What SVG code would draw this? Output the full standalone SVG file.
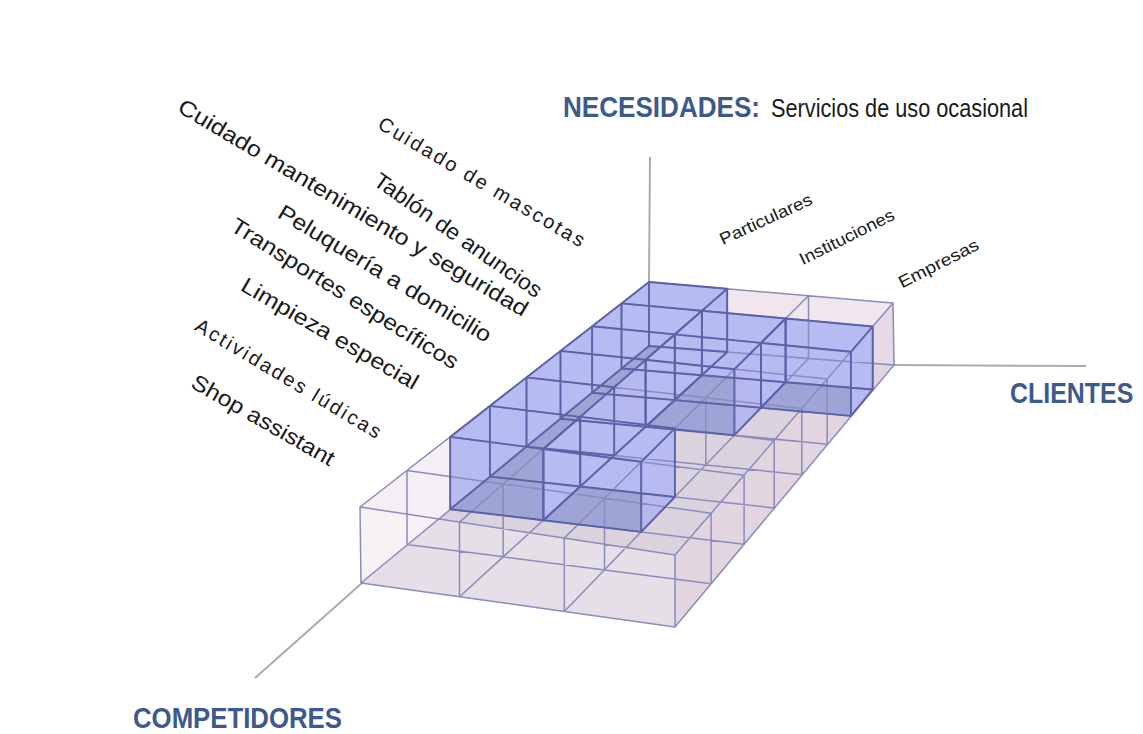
<svg xmlns="http://www.w3.org/2000/svg" width="1143" height="734" viewBox="0 0 1143 734">
<style>
.ax{stroke:#ababab;stroke-width:2;fill:none}
.lbl{font-family:"Liberation Sans",Arial,sans-serif;fill:#1a1a1a}
.axt{font-family:"Liberation Sans",Arial,sans-serif;font-weight:bold;fill:#3c5b8c}
.lat{stroke:#8a8cbd;stroke-width:1.5;fill:none;stroke-linecap:round}
.bed{stroke:#5d62a8;stroke-width:1.9;fill:none;stroke-linecap:round}
.lb{fill:#b7bbf2}
.db{fill:#9aa0d0}
.tp{fill:#b7bbf2;fill-opacity:.15}
.rt{fill:#b7bbf2;fill-opacity:.92}
.fr{fill:#b7bbf2;fill-opacity:.15}
</style>
<rect width="1143" height="734" fill="#ffffff"/>
<g id="axes">
<line class="ax" x1="650" y1="157" x2="649" y2="282"/>
<line class="ax" x1="894" y1="365" x2="1086" y2="366"/>
<line class="ax" x1="362" y1="583" x2="255" y2="678"/>
</g>
<g id="grid-base">
<polygon points="649,282 893,303 894,365 675,627 361,583 360,507" fill="#f6eff5"/>
<polygon points="649,346 894,365 675,627 361,583" fill="#dad3de"/>
<polygon points="727.2,288.7 893,303 894,365 727.2,352" fill="#f1e5ee"/>
<polygon points="893,303 872.7,326.5 872.7,389.5 894,365" fill="#e4d6e0" fill-opacity=".8"/>
<polygon points="850.9,351.8 675,555 675,627 850.9,415.9" fill="#e4d6e0" fill-opacity=".8"/>
</g>
<g id="cube-particulares">
<polygon class="lb" points="649,282 450.2,436.9 450.2,509.3 649,346"/>
<polygon class="lb" points="649,282 727.2,288.7 727.2,352 649,346"/>
<polygon class="db" points="649,346 727.2,352 543.4,520.2 450.2,509.3"/>
<polygon class="rt" points="727.2,288.7 543.4,449 543.4,520.2 727.2,352"/>
<polygon class="fr" points="450.2,436.9 543.4,449 543.4,520.2 450.2,509.3"/>
<polygon class="tp" points="649,282 727.2,288.7 543.4,449 450.2,436.9"/>
</g>
<g id="cube-instituciones-a">
<polygon class="lb" points="701.9,310.8 645.6,359.8 645.6,426.7 701.9,375.2"/>
<polygon class="lb" points="701.9,310.8 785.6,318.5 785.6,382.2 701.9,375.2"/>
<polygon class="db" points="701.9,375.2 785.6,382.2 734.4,435.2 645.6,426.7"/>
<polygon class="rt" points="785.6,318.5 734.4,369.2 734.4,435.2 785.6,382.2"/>
<polygon class="fr" points="645.6,359.8 734.4,369.2 734.4,435.2 645.6,426.7"/>
<polygon class="tp" points="701.9,310.8 785.6,318.5 734.4,369.2 645.6,359.8"/>
</g>
<g id="cube-empresas">
<polygon class="lb" points="785.6,318.5 761,342.9 761,407.8 785.6,382.2"/>
<polygon class="lb" points="785.6,318.5 872.7,326.5 872.7,389.5 785.6,382.2"/>
<polygon class="db" points="785.6,382.2 872.7,389.5 850.9,415.9 761,407.8"/>
<polygon class="rt" points="872.7,326.5 850.9,351.8 850.9,415.9 872.7,389.5"/>
<polygon class="fr" points="761,342.9 850.9,351.8 850.9,415.9 761,407.8"/>
<polygon class="tp" points="785.6,318.5 872.7,326.5 850.9,351.8 761,342.9"/>
</g>
<g id="cube-instituciones-b">
<polygon class="lb" points="580.2,416.9 543.4,449 543.4,520.2 580.2,486.5"/>
<polygon class="lb" points="580.2,416.9 674.9,428.4 674.9,497 580.2,486.5"/>
<polygon class="db" points="580.2,486.5 674.9,497 641.2,531.9 543.4,520.2"/>
<polygon class="rt" points="674.9,428.4 641.2,461.8 641.2,531.9 674.9,497"/>
<polygon class="fr" points="543.4,449 641.2,461.8 641.2,531.9 543.4,520.2"/>
<polygon class="tp" points="580.2,416.9 674.9,428.4 641.2,461.8 543.4,449"/>
</g>
<g id="grid-front">
<polygon points="360,507 675,555 675,627 361,583" fill="#fbf6fa" fill-opacity=".35"/>
</g>
<g id="connectors">
<path class="lat" d="M649,282L360,507 M727.2,288.7L459.5,522.1 M808.5,295.7L564.3,538.1 M893,303L675,555
M649,282L893,303 M621.5,303.4L872.7,326.5 M592.1,326.3L850.9,351.8 M560.5,350.9L827.2,379 M526.5,377.4L801.8,408.4 M489.9,405.9L774.2,440.4 M450.2,436.9L744.1,475.2 M407,470.4L711.1,513.2 M360,507L675,555
M649,346L361,583 M727.2,352L459.5,596.8 M808.5,358.4L564.3,611.4 M894,365L675,627
M649,346L727.2,352L808.5,358.4L894,365 M621.5,368.5L701.9,375.2L785.6,382.2L872.7,389.5 M592.1,392.8L674.8,400.1L761,407.8L850.9,415.9 M560.5,418.7L645.6,426.7L734.4,435.2L827.2,444.2 M526.5,446.6L614.2,455.5L705.8,464.9L801.8,474.7 M489.9,476.6L580.2,486.5L674.9,497L774.2,508 M450.2,509.3L543.4,520.2L641.2,531.9L744.1,544.2 M407,544.6L503.2,556.8L604.5,569.9L711.1,583.7 M361,583L459.5,596.8L564.3,611.4L675,627
M649,282V346 M621.5,303.4V368.5 M592.1,326.3V392.8 M560.5,350.9V418.7 M526.5,377.4V446.6 M489.9,405.9V476.6 M450.2,436.9V509.3 M407,470.4V544.6 M360,507L361,583
M727.2,288.7V352 M701.9,310.8V375.2 M674.8,334.4V400.1 M645.6,359.8V426.7 M614.2,387.3V455.5 M580.2,416.9V486.5 M543.4,449V520.2 M503.2,483.9V556.8 M459.5,522.1V596.8
M808.5,295.7V358.4 M785.6,318.5V382.2 M761,342.9V407.8 M734.4,369.2V435.2 M705.8,397.6V464.9 M674.9,428.4V497 M641.2,461.8V531.9 M604.5,498.2V569.9 M564.3,538.1V611.4
M893,303L894,365 M872.7,326.5V389.5 M850.9,351.8V415.9 M827.2,379V444.2 M801.8,408.4V474.7 M774.2,440.4V508 M744.1,475.2V544.2 M711.1,513.2V583.7 M675,555V627"/>
<path class="bed" d="M649,282L450.2,436.9 M727.2,288.7L543.4,449 M649,346L450.2,509.3 M727.2,352L543.4,520.2
M649,282L727.2,288.7 M621.5,303.4L701.9,310.8 M592.1,326.3L674.8,334.4 M560.5,350.9L645.6,359.8 M526.5,377.4L614.2,387.3 M489.9,405.9L580.2,416.9 M450.2,436.9L543.4,449
M649,346L727.2,352 M621.5,368.5L701.9,375.2 M592.1,392.8L674.8,400.1 M560.5,418.7L645.6,426.7 M526.5,446.6L614.2,455.5 M489.9,476.6L580.2,486.5 M450.2,509.3L543.4,520.2
M649,282V346 M621.5,303.4V368.5 M592.1,326.3V392.8 M560.5,350.9V418.7 M526.5,377.4V446.6 M489.9,405.9V476.6 M450.2,436.9V509.3
M727.2,288.7V352 M701.9,310.8V375.2 M674.8,334.4V400.1 M645.6,359.8V426.7 M614.2,387.3V455.5 M580.2,416.9V486.5 M543.4,449V520.2"/>
<path class="bed" d="M701.9,310.8L645.6,359.8 M785.6,318.5L734.4,369.2 M701.9,375.2L645.6,426.7 M785.6,382.2L734.4,435.2
M701.9,310.8L785.6,318.5 M674.8,334.4L761,342.9 M645.6,359.8L734.4,369.2
M701.9,375.2L785.6,382.2 M674.8,400.1L761,407.8 M645.6,426.7L734.4,435.2
M701.9,310.8V375.2 M674.8,334.4V400.1 M645.6,359.8V426.7 M785.6,318.5V382.2 M761,342.9V407.8 M734.4,369.2V435.2"/>
<path class="bed" d="M785.6,318.5L761,342.9 M872.7,326.5L850.9,351.8 M785.6,382.2L761,407.8 M872.7,389.5L850.9,415.9
M785.6,318.5L872.7,326.5 M761,342.9L850.9,351.8 M785.6,382.2L872.7,389.5 M761,407.8L850.9,415.9
M785.6,318.5V382.2 M761,342.9V407.8 M872.7,326.5V389.5 M850.9,351.8V415.9"/>
<path class="bed" d="M580.2,416.9L543.4,449 M674.9,428.4L641.2,461.8 M580.2,486.5L543.4,520.2 M674.9,497L641.2,531.9
M580.2,416.9L674.9,428.4 M543.4,449L641.2,461.8 M580.2,486.5L674.9,497 M543.4,520.2L641.2,531.9
M580.2,416.9V486.5 M543.4,449V520.2 M674.9,428.4V497 M641.2,461.8V531.9"/>
</g>
<g id="labels-needs" class="lbl">
<text transform="translate(481.7,181.7) rotate(30.5)" text-anchor="middle" dy="0.35em" font-size="20" textLength="236" lengthAdjust="spacing">Cuidado de mascotas</text>
<text transform="translate(458.3,235) rotate(35)" text-anchor="middle" dy="0.35em" font-size="22" textLength="200" lengthAdjust="spacingAndGlyphs">Tablón de anuncios</text>
<text transform="translate(353.3,207.5) rotate(30.8)" text-anchor="middle" dy="0.35em" font-size="22" textLength="403" lengthAdjust="spacingAndGlyphs">Cuidado mantenimiento y seguridad</text>
<text transform="translate(385,273.3) rotate(31.1)" text-anchor="middle" dy="0.35em" font-size="22" textLength="245" lengthAdjust="spacingAndGlyphs">Peluquería a domicilio</text>
<text transform="translate(345,293.3) rotate(32.1)" text-anchor="middle" dy="0.35em" font-size="22" textLength="264" lengthAdjust="spacingAndGlyphs">Transportes específicos</text>
<text transform="translate(330,333.3) rotate(30)" text-anchor="middle" dy="0.35em" font-size="22" textLength="201" lengthAdjust="spacingAndGlyphs">Limpieza especial</text>
<text transform="translate(288.3,378.3) rotate(31)" text-anchor="middle" dy="0.35em" font-size="20" textLength="213" lengthAdjust="spacing">Actividades lúdicas</text>
<text transform="translate(263.3,420) rotate(29.7)" text-anchor="middle" dy="0.35em" font-size="22" textLength="161" lengthAdjust="spacingAndGlyphs">Shop assistant</text>
</g>
<g id="labels-clients" class="lbl">
<text transform="translate(765.7,219) rotate(-24.5)" text-anchor="middle" dy="0.35em" font-size="17" textLength="100" lengthAdjust="spacingAndGlyphs">Particulares</text>
<text transform="translate(846.7,236.7) rotate(-26.5)" text-anchor="middle" dy="0.35em" font-size="17" textLength="104" lengthAdjust="spacingAndGlyphs">Instituciones</text>
<text transform="translate(938.4,263.3) rotate(-27)" text-anchor="middle" dy="0.35em" font-size="17" textLength="88" lengthAdjust="spacingAndGlyphs">Empresas</text>
</g>
<g id="axis-titles">
<text class="axt" x="563" y="117" font-size="30" textLength="197" lengthAdjust="spacingAndGlyphs">NECESIDADES:</text>
<text class="lbl" x="771" y="117" font-size="25" textLength="257" lengthAdjust="spacingAndGlyphs">Servicios de uso ocasional</text>
<text class="axt" transform="translate(1010,403) scale(0.86,1)" x="0" y="0" font-size="29">CLIENTES</text>
<text class="axt" x="133" y="728" font-size="29" textLength="209" lengthAdjust="spacingAndGlyphs">COMPETIDORES</text>
</g>
</svg>
